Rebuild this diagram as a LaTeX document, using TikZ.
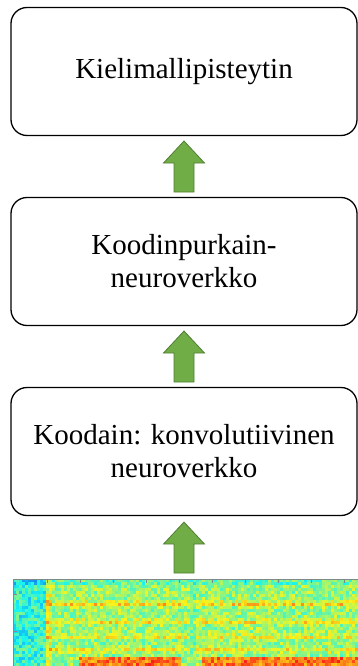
\documentclass[tikz,border=0pt]{standalone}
\usepackage{fontspec}
\setmainfont{Liberation Serif}
\usetikzlibrary{calc}

\definecolor{arrowgreen}{HTML}{70AD47}
\definecolor{arrowedge}{HTML}{507E32}
\definecolor{framegray}{HTML}{7E8A8A}

\tikzset{
  stagebox/.style={draw=black, line width=1.3pt, rounded corners=16pt,
    minimum width=346pt, minimum height=128pt, inner sep=0pt,
    align=center, font=\fontsize{29}{33}\selectfont},
  blockup/.style={fill=arrowgreen, draw=arrowedge, line width=0.8pt, line join=miter},
  tick/.style={draw=framegray, line width=1pt}
}

% upward block arrow centred between two anchors
\newcommand{\blockarrow}[2]{%
  \draw[blockup] ($(#1)!0.5!(#2)$) ++(-10,25.5) -- ++(20,0) -- ++(0,-29)
    -- ++(10.5,0) -- ++(-20.5,-22) -- ++(-20.5,22) -- ++(10.5,0) -- cycle;}

\begin{document}
\begin{tikzpicture}[x=1pt, y=-1pt]
\useasboundingbox (0,0) rectangle (357,666);

% processing stages
\node[stagebox] (lm)  at (184,71.5)  {Kielimallipisteytin};
\node[stagebox] (dec) at (184,261.5) {Koodinpurkain-\\neuroverkko};
\node[stagebox] (enc) at (184,451.5) {Koodain: konvolutiivinen\\neuroverkko};
\coordinate (spec) at (184,579);

% spectrogram input: noisy cells coloured with a jet colour map
\begin{scope}
\clip (13,579) rectangle (358,667);
\pgfmathsetseed{7}
\foreach \i in {0,...,114}{
  \foreach \j in {0,...,29}{
    \pgfmathsetmacro\spu{3*\i+1.5}
    \pgfmathsetmacro\spw{3*\j+1.5}
    \pgfmathsetmacro\sps{(\spu>32)*(\spu<176)+(\spu>183)+0.6*(\spu>=176)*(\spu<=183)}
    \pgfmathsetmacro\spband{max(0,1-abs(\spw-25)/4)+0.8*max(0,1-abs(\spw-43)/4)+0.6*max(0,1-abs(\spw-58)/3.5)+0.7*max(0,1-abs(\spw-71)/3.5)}
    \pgfmathsetmacro\spbot{((\spu>67)*(\spu<168)+(\spu>190))*(\spw>78)}
    \pgfmathsetmacro\spv{0.41-0.06*(\spw<7)+\sps*(0.11+0.15*\spband)+0.25*\spbot+0.07*(\spu>32)*(\spu<40)+0.19*(rnd-0.5)}
    \pgfmathsetmacro\colR{0.08+0.9*min(1,max(0,1.5-abs(4*\spv-3)))}
    \pgfmathsetmacro\colG{0.08+0.88*min(1,max(0,1.5-abs(4*\spv-2)))}
    \pgfmathsetmacro\colB{0.1+0.85*min(1,max(0,1.5-abs(4*\spv-1)))}
    \definecolor{spc}{rgb}{\colR,\colG,\colB}
    \fill[spc] (13+3*\i,579+3*\j) rectangle ++(3.05,3.05);
  }
}
\end{scope}
\draw[framegray, line width=1.4pt] (13.5,700) -- (13.5,579.5) -- (360,579.5);
\foreach \tx in {47,80,113,146,179,212,245,278,311,344}
  \draw[tick] (\tx,579.5) -- ++(0,3);
\foreach \ty in {594,631}
  \draw[tick] (13.5,\ty) -- ++(3,0);

% data flow
\blockarrow{dec.north}{lm.south}
\blockarrow{enc.north}{dec.south}
\blockarrow{spec}{enc.south}
\end{tikzpicture}
\end{document}
